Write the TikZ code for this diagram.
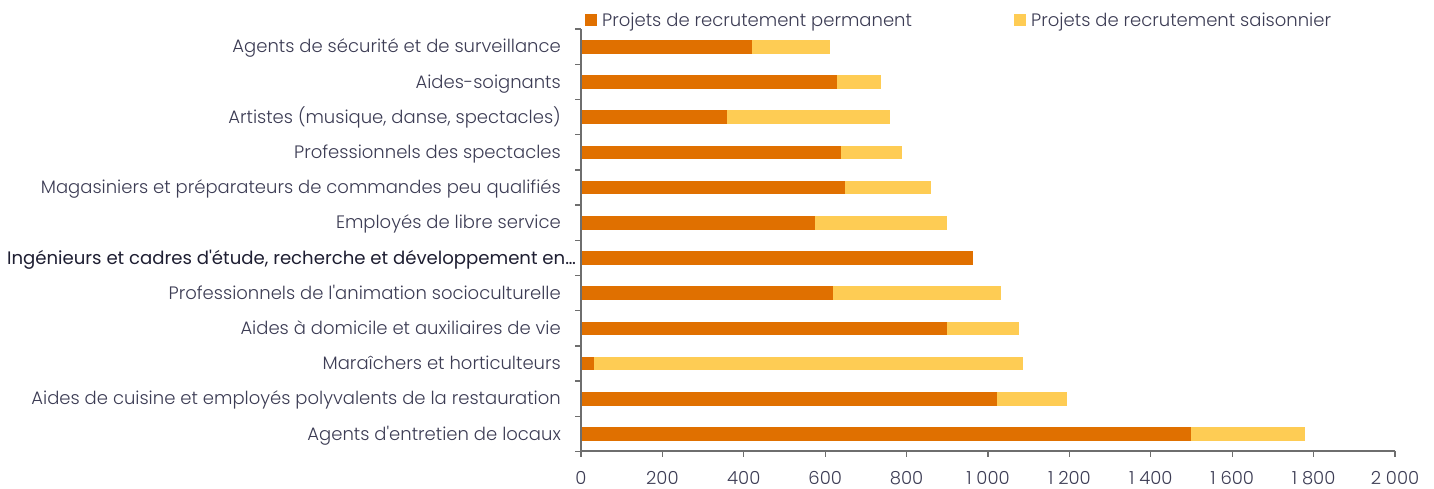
\documentclass[tikz,border=0pt]{standalone}
\usepackage{fontspec}
\setmainfont{Poppins}[UprightFont={* Light}]
\newfontfamily\labfont{Poppins}
\definecolor{perm}{RGB}{224,112,0}
\definecolor{sais}{RGB}{254,204,84}
\definecolor{txt}{RGB}{60,60,84}
\definecolor{txtdark}{RGB}{30,30,50}
\definecolor{axis}{RGB}{110,110,110}
\begin{document}
\begin{tikzpicture}[x=1pt,y=-1pt,
  lab/.style={anchor=base east,text=txt,font=\fontsize{18}{18}\selectfont,inner sep=0pt},
  ticklab/.style={anchor=base,text=txt,font=\fontsize{18}{18}\selectfont,inner sep=0pt},
  legtext/.style={anchor=base west,text=txt,font=\fontsize{18}{18}\selectfont,inner sep=0pt},
  axisline/.style={draw=axis,line width=1.3pt}]
\useasboundingbox (0,0) rectangle (1434,488);
\def\xo{581}\def\sc{0.407}\def\yo{46.7}\def\dy{35.2}\def\hb{6.8}
% bars
\foreach \i/\p/\t in {0/420/612,1/629/737,2/359/759,3/639/789,4/649/860,5/575/899,6/963/963,7/619/1032,8/899/1076,9/32/1086,10/1022/1194,11/1498/1779}{
  \pgfmathsetmacro{\yc}{\yo+\i*\dy}
  \pgfmathsetmacro{\xp}{\xo+\p*\sc}
  \pgfmathsetmacro{\xt}{\xo+\t*\sc}
  \fill[sais] (\xp,\yc-\hb) rectangle (\xt,\yc+\hb);
  \fill[perm] (\xo,\yc-\hb) rectangle (\xp,\yc+\hb);
}
% category labels
\foreach \i/\s in {0/{Agents de sécurité et de surveillance},1/{Aides-soignants},2/{Artistes (musique, danse, spectacles)},3/{Professionnels des spectacles},4/{Magasiniers et préparateurs de commandes peu qualifiés},5/{Employés de libre service},7/{Professionnels de l\textquotesingle animation socioculturelle},8/{Aides à domicile et auxiliaires de vie},9/{Maraîchers et horticulteurs},10/{Aides de cuisine et employés polyvalents de la restauration},11/{Agents d\textquotesingle entretien de locaux}}{
  \pgfmathsetmacro{\yc}{\yo+\i*\dy+6.2}
  \node[lab] (c\i) at (561,\yc) {\s};
}
\pgfmathsetmacro{\yc}{\yo+6*\dy+6.4}
\node[anchor=base east,text=txtdark,font=\labfont\fontsize{18.1}{18.1}\selectfont,inner sep=0pt] (c6) at (576,\yc) {Ingénieurs et cadres d\textquotesingle étude, recherche et développement en…};
% axes
\pgfmathsetmacro{\ytop}{\yo-\dy/2}
\draw[axisline] (\xo,\ytop) -- (\xo,451);
\foreach \i in {0,...,12}{
  \pgfmathsetmacro{\yt}{\ytop+\i*\dy}
  \draw[axisline] (\xo-6,\yt) -- (\xo,\yt);
}
\draw[axisline] (\xo,451) -- (\xo+2000*\sc,451);
\foreach \v/\s in {0/0,200/200,400/400,600/600,800/800,1000/1 000,1200/1 200,1400/1 400,1600/1 600,1800/1 800,2000/2 000}{
  \pgfmathsetmacro{\xv}{\xo+\v*\sc}
  \draw[axisline] (\xv,451) -- (\xv,457);
  \node[ticklab] (t\v) at (\xv,484.5) {\s};
}
% legend
\fill[perm] (585,14) rectangle (597,26);
\node[legtext] (l1) at (602,26.5) {Projets de recrutement permanent};
\fill[sais] (1014,14) rectangle (1026,26);
\node[legtext] (l2) at (1031,26.5) {Projets de recrutement saisonnier};
\end{tikzpicture}
\end{document}
